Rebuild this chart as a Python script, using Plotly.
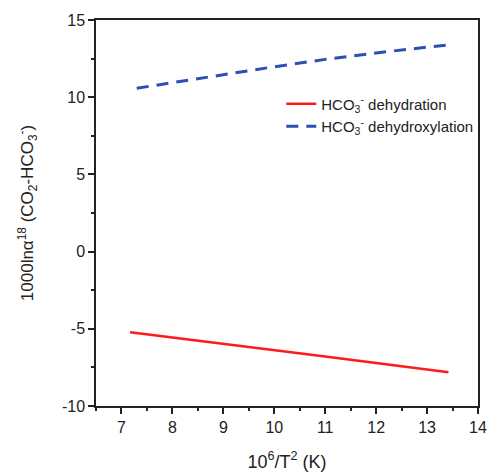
import plotly.graph_objects as go

# Data
x_dehydration = [7.17, 8, 9, 10, 11, 12, 13, 13.42]
y_dehydration = [-5.23, -5.56, -5.96, -6.37, -6.79, -7.22, -7.65, -7.82]

x_dehydroxylation = [7.3, 8, 9, 10, 11, 12, 13, 13.4]
y_dehydroxylation = [10.58, 10.95, 11.48, 11.97, 12.45, 12.87, 13.24, 13.38]

name_dehydration = "HCO<sub>3</sub><sup>-</sup> dehydration"
name_dehydroxylation = "HCO<sub>3</sub><sup>-</sup> dehydroxylation"

x_tickvals = [7, 8, 9, 10, 11, 12, 13, 14]
y_tickvals = [-10, -5, 0, 5, 10, 15]
y_ticktext = ["-10", "-5", "0", "5", "10", "15"]

FONT = "Liberation Sans, Arial, sans-serif"

fig = go.Figure()
fig.add_trace(go.Scatter(
    x=x_dehydration, y=y_dehydration, mode="lines", name=name_dehydration,
    line=dict(color="#ff1a1a", width=2.5),
))
fig.add_trace(go.Scatter(
    x=x_dehydroxylation, y=y_dehydroxylation, mode="lines", name=name_dehydroxylation,
    line=dict(color="#2c4fb3", width=3, dash="12px,8px"),
))

axis_common = dict(
    showline=True, linecolor="#222", linewidth=1.5, mirror=True,
    ticks="outside", ticklen=6, tickwidth=1.5, tickcolor="#222",
    showgrid=False, zeroline=False,
    tickfont=dict(family=FONT, size=16, color="#222"),
)

fig.update_xaxes(
    range=[6.5, 14], tickvals=x_tickvals,
    minor=dict(dtick=0.5, ticks="outside", ticklen=3, tickwidth=1.5, tickcolor="#222"),
    title=dict(text="10<sup>6</sup>/T<sup>2</sup> (K)", font=dict(family=FONT, size=18, color="#222"), standoff=20),
    **axis_common,
)
fig.update_yaxes(
    range=[-10, 15], tickvals=y_tickvals, ticktext=y_ticktext,
    minor=dict(dtick=2.5, ticks="outside", ticklen=3, tickwidth=1.5, tickcolor="#222"),
    title=dict(text="1000lnα<sup>18</sup> (CO<sub>2</sub>-HCO<sub>3</sub><sup>-</sup>)",
               font=dict(family=FONT, size=17, color="#222"), standoff=24),
    **axis_common,
)

fig.update_layout(
    width=489, height=476,
    margin=dict(l=96, r=11, t=20, b=70, autoexpand=False),
    plot_bgcolor="white", paper_bgcolor="white",
    showlegend=True,
    legend=dict(x=0.485, y=0.825, xanchor="left", yanchor="top",
                bgcolor="rgba(0,0,0,0)", font=dict(family=FONT, size=15, color="#222"),
                tracegroupgap=0),
)

fig.write_html("out.html")
